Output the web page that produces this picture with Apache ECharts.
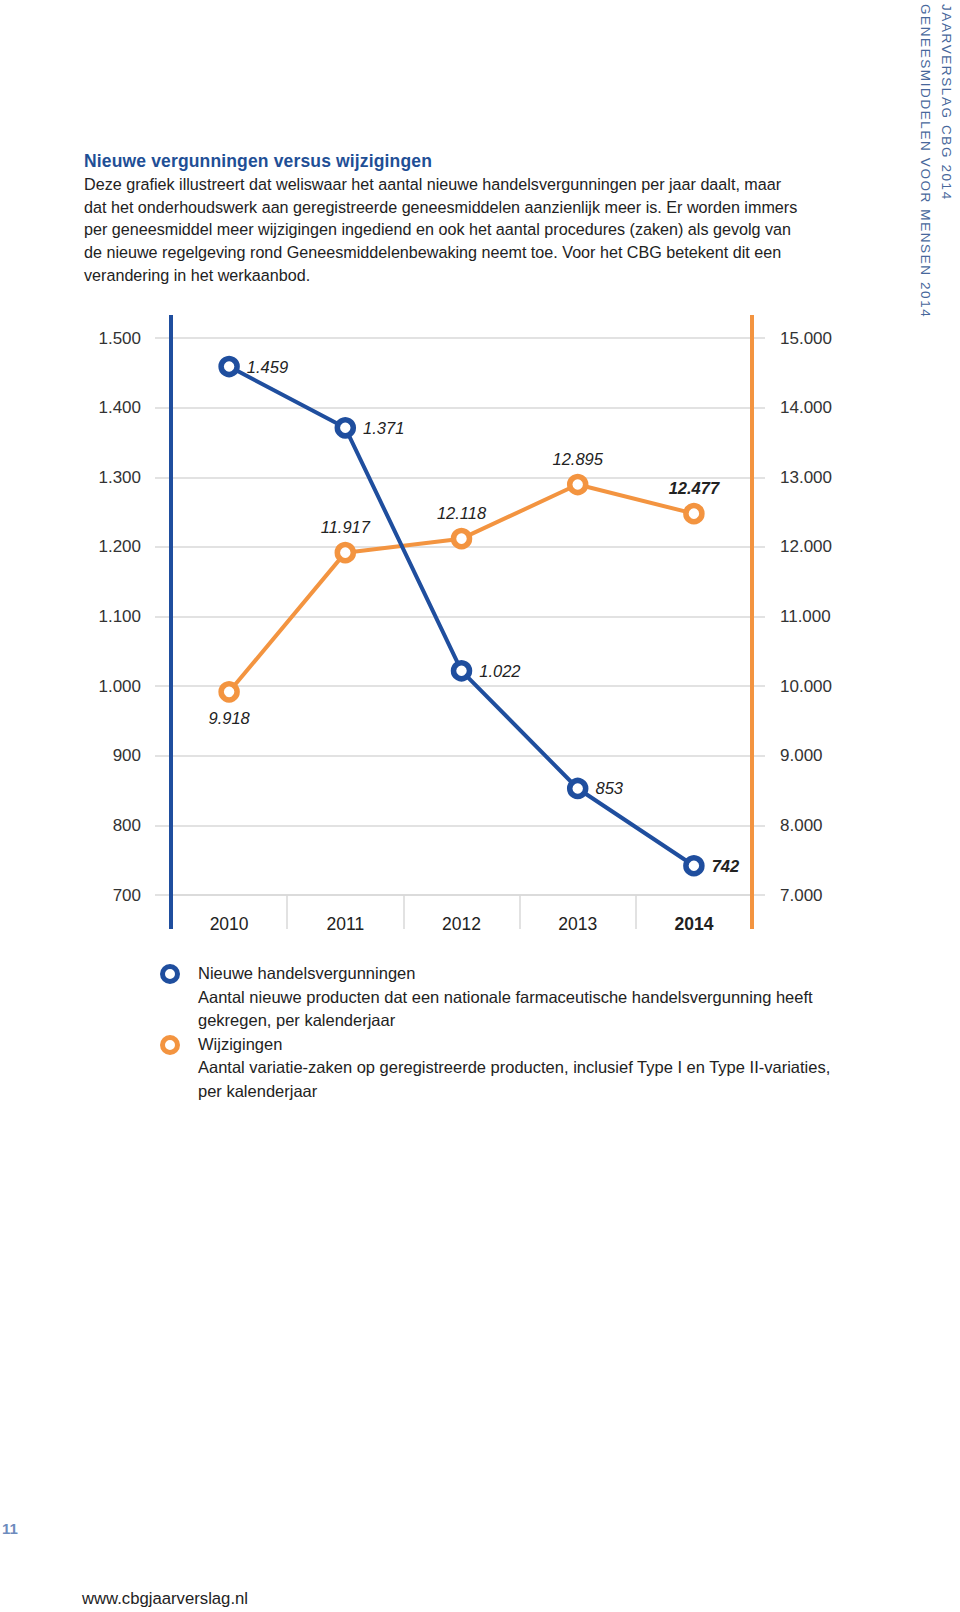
<!DOCTYPE html>
<html>
<head>
<meta charset="utf-8">
<script src="https://cdn.jsdelivr.net/npm/echarts@6/dist/echarts.min.js"></script>
<style>
  html, body { margin: 0; padding: 0; background: #fff; }
  body { width: 960px; height: 1612px; position: relative; overflow: hidden;
         font-family: "Liberation Sans", Arial, sans-serif; color: #222; }
  #chart { position: absolute; left: 0; top: 0; width: 960px; height: 1612px; }
  .abs { position: absolute; white-space: nowrap; }
  #intro { left: 84px; top: 150px; font-size: 16.15px; line-height: 22.8px; }
  #intro .title { color: #1f4f96; font-weight: bold; font-size: 17.5px; letter-spacing: 0.15px; }
  #side { left: 915px; top: 4px; writing-mode: vertical-rl; font-size: 13.5px; line-height: 21px;
          letter-spacing: 1.6px; color: #47679b; }
  #legend { left: 198px; top: 962px; font-size: 16.5px; line-height: 23.6px; }
  .ring { position: absolute; width: 10px; height: 10px; border-radius: 50%; border: 5.5px solid; background: #fff; }
  #pnum { left: 2px; top: 1520px; font-size: 15px; font-weight: bold; color: #6d8bbd; }
  #url { left: 82px; top: 1589px; font-size: 16.7px; }
</style>
</head>
<body>
<div id="chart"></div>
<div id="intro" class="abs"><span class="title">Nieuwe vergunningen versus wijzigingen</span><br>Deze grafiek illustreert dat weliswaar het aantal nieuwe handelsvergunningen per jaar daalt, maar<br>dat het onderhoudswerk aan geregistreerde geneesmiddelen aanzienlijk meer is. Er worden immers<br>per geneesmiddel meer wijzigingen ingediend en ook het aantal procedures (zaken) als gevolg van<br>de nieuwe regelgeving rond Geneesmiddelenbewaking neemt toe. Voor het CBG betekent dit een<br>verandering in het werkaanbod.</div>
<div id="side" class="abs">JAARVERSLAG CBG 2014<br>GENEESMIDDELEN VOOR MENSEN 2014</div>
<div class="ring" style="left:160px;top:964px;border-color:#1f4e9e"></div>
<div class="ring" style="left:160px;top:1035px;border-color:#f39440"></div>
<div id="legend" class="abs">Nieuwe handelsvergunningen<br>Aantal nieuwe producten dat een nationale farmaceutische handelsvergunning heeft<br>gekregen, per kalenderjaar<br>Wijzigingen<br>Aantal variatie-zaken op geregistreerde producten, inclusief Type I en Type II-variaties,<br>per kalenderjaar</div>
<div id="pnum" class="abs">11</div>
<div id="url" class="abs">www.cbgjaarverslag.nl</div>
<script>
const years = ['2010', '2011', '2012', '2013', '2014'];
const newLicences = [1459, 1371, 1022, 853, 742];
const changes = [9918, 11917, 12118, 12895, 12477];
const leftTicks = { min: 700, max: 1500, interval: 100 };
const rightTicks = { min: 7000, max: 15000, interval: 1000 };

const BLUE = '#1f4e9e';
const ORANGE = '#f39440';
const GRIDC = '#d9d9d9';
const fmt = v => String(v).replace(/\B(?=(\d{3})+(?!\d))/g, '.');
const FONT = '"Liberation Sans", Arial, sans-serif';

const chart = echarts.init(document.getElementById('chart'), null, { renderer: 'svg' });

const blueData = newLicences.map((v, i) => i === newLicences.length - 1
  ? { value: v, label: { fontWeight: 'bold' } } : v);
const orangeData = changes.map((v, i) => {
  if (i === 0) return { value: v, label: { position: 'bottom', distance: 7 } };
  if (i === changes.length - 1) return { value: v, label: { fontWeight: 'bold' } };
  return v;
});

const ringStyle = c => ({ color: '#fff', borderColor: c, borderWidth: 5.5 });

const option = {
  animation: false,
  textStyle: { fontFamily: FONT },
  grid: { left: 171, right: 208, top: 338, bottom: 717 },
  xAxis: {
    type: 'category',
    data: years,
    boundaryGap: true,
    axisLine: { show: true, lineStyle: { color: GRIDC, width: 1.5 } },
    axisTick: { show: true, length: 34, interval: 0, lineStyle: { color: GRIDC, width: 1.5 } },
    axisLabel: {
      margin: 20, color: '#222', fontFamily: FONT,
      formatter: (v, i) => (i === years.length - 1 ? '{b|' : '{n|') + v + '}',
      rich: {
        n: { fontSize: 17.5, color: '#222', fontFamily: FONT },
        b: { fontSize: 17.5, fontWeight: 'bold', color: '#222', fontFamily: FONT }
      }
    },
    splitLine: { show: false }
  },
  yAxis: [
    {
      type: 'value', position: 'left',
      min: leftTicks.min, max: leftTicks.max, interval: leftTicks.interval,
      axisLine: { show: true, lineStyle: { color: BLUE, width: 4 } },
      axisTick: { show: true, length: 16, lineStyle: { color: GRIDC, width: 1.5 } },
      axisLabel: { margin: 30, fontSize: 17, color: '#333', fontFamily: FONT, formatter: fmt },
      splitLine: { show: true, lineStyle: { color: GRIDC, width: 1.5 } }
    },
    {
      type: 'value', position: 'right',
      min: rightTicks.min, max: rightTicks.max, interval: rightTicks.interval,
      axisLine: { show: true, lineStyle: { color: ORANGE, width: 4 } },
      axisTick: { show: true, length: 13, lineStyle: { color: GRIDC, width: 1.5 } },
      axisLabel: { margin: 28, fontSize: 17, color: '#333', fontFamily: FONT, formatter: fmt },
      splitLine: { show: false }
    }
  ],
  series: [
    {
      name: 'Wijzigingen', type: 'line', yAxisIndex: 1, data: orangeData, z: 3,
      symbol: 'circle', symbolSize: 16,
      itemStyle: ringStyle(ORANGE),
      lineStyle: { color: ORANGE, width: 4 },
      label: { show: true, position: 'top', distance: 6, fontSize: 16.5, fontStyle: 'italic',
               color: '#222', fontFamily: FONT, formatter: p => fmt(p.value) }
    },
    {
      name: 'Nieuwe handelsvergunningen', type: 'line', yAxisIndex: 0, data: blueData, z: 4,
      symbol: 'circle', symbolSize: 16,
      itemStyle: ringStyle(BLUE),
      lineStyle: { color: BLUE, width: 4 },
      label: { show: true, position: 'right', distance: 7, fontSize: 16.5, fontStyle: 'italic',
               color: '#222', fontFamily: FONT, formatter: p => fmt(p.value) }
    }
  ]
};
chart.setOption(option);

// extend the two coloured axis lines above and below the plot area
const rect = chart.getModel().getComponent('grid').coordinateSystem.getRect();
const yTop = chart.convertToPixel({ yAxisIndex: 0 }, leftTicks.max) - 23;
const yBot = chart.convertToPixel({ yAxisIndex: 0 }, leftTicks.min) + 34;
chart.setOption({
  graphic: [
    { type: 'line', z: 10, shape: { x1: rect.x, y1: yTop, x2: rect.x, y2: yBot },
      style: { stroke: BLUE, lineWidth: 4 } },
    { type: 'line', z: 10, shape: { x1: rect.x + rect.width, y1: yTop, x2: rect.x + rect.width, y2: yBot },
      style: { stroke: ORANGE, lineWidth: 4 } }
  ]
});
</script>
</body>
</html>
